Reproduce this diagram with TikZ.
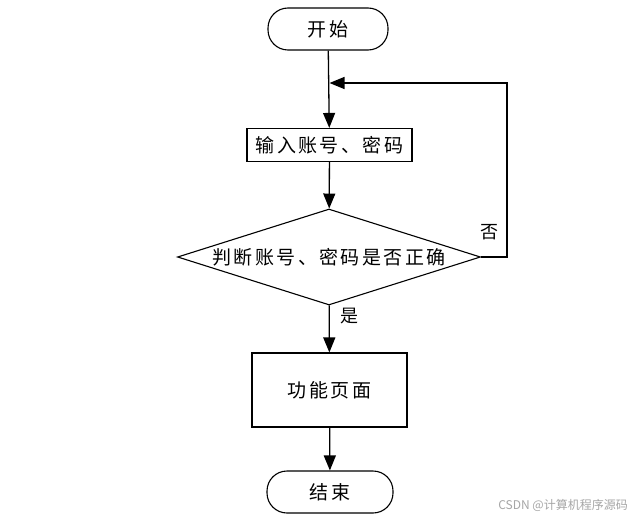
\documentclass[tikz,border=0pt]{standalone}
\usepackage{fontspec}
\newfontfamily\cjk[LetterSpace=13]{Noto Sans CJK SC}
\newfontfamily\cjkmark{Noto Sans CJK SC}
\usepackage{tikz}
\usetikzlibrary{arrows.meta,positioning,shapes.geometric,calc}

\tikzset{
  flow/.style={line width=1.3pt,-{Triangle[length=15pt,width=12pt]}},
  big/.style={font=\cjk\fontsize{19}{22}\selectfont},
  term/.style={draw,line width=1.1pt,rounded corners=20pt,minimum width=120pt,
    minimum height=42pt,inner sep=0pt,big},
  proc/.style={draw,line width=1.1pt,inner sep=0pt,big},
  decide/.style={draw,line width=1.1pt,diamond,inner sep=0pt,
    minimum width=303pt,minimum height=96pt},
  lbl/.style={inner sep=0pt,font=\cjkmark\fontsize{18}{20}\selectfont}
}

\begin{document}
\begin{tikzpicture}[x=1pt,y=-1pt]
  \useasboundingbox[fill=white] (0,0) rectangle (629,519);

  \node[term] (start) at (328,29) {开始};
  \node[proc,minimum width=165pt,minimum height=33pt] (input) at (329.5,145) {输入账号、密码};
  \node[decide] (check) at (329,257) {};
  \node[big,inner sep=0pt] (checktext) at (check.center) {判断账号、密码是否正确};
  \node[proc,minimum width=155pt,minimum height=74pt] (page) at (329.5,390) {功能页面};
  \node[term,minimum width=126pt] (stop) at (330,492) {结束};

  \coordinate (join) at (input.north |- 0,83);

  \draw[flow] (start) -- (input);
  \draw[flow] (input) -- (check);
  \draw[flow] (check) -- (page);
  \draw[flow] (page) -- (stop);
  % back loop when the check fails
  \draw[flow] (check.east) -- ++(26,0) |- (join);

  \node[lbl] (no) at (489,232) {否};
  \node[lbl] (yes) at (349,316) {是};

  \node[anchor=east,inner sep=0pt,text=black!35,font=\cjkmark\fontsize{12}{14}\selectfont]
    (mark) at (628,505) {CSDN @计算机程序源码};
\end{tikzpicture}
\end{document}
